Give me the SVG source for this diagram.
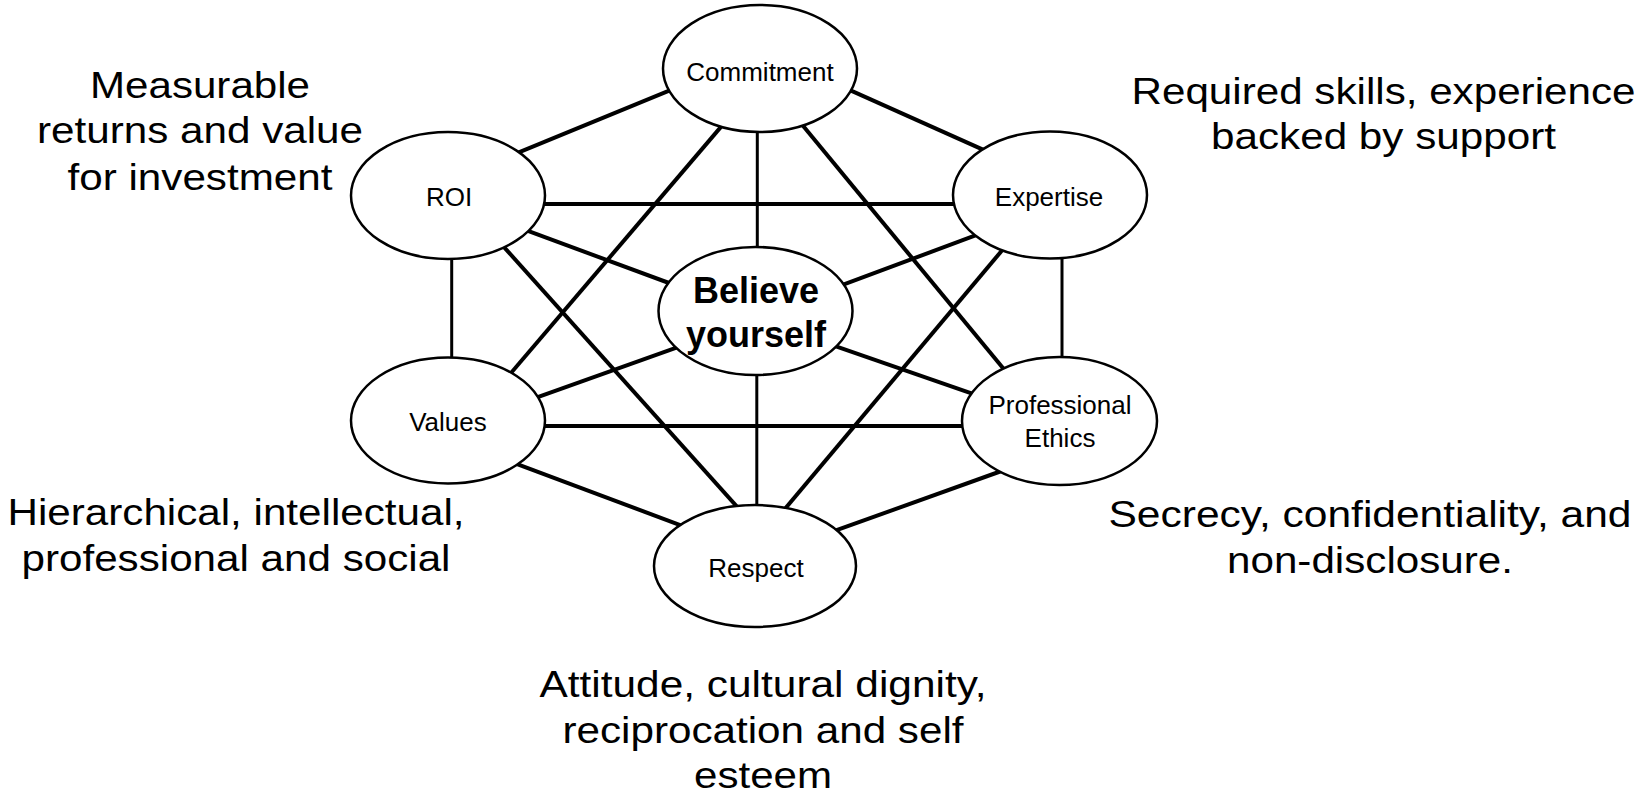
<svg xmlns="http://www.w3.org/2000/svg" width="1638" height="799" viewBox="0 0 1638 799">
<style>
.bg{fill:#ffffff}
.edge{stroke:#000;stroke-width:4;fill:none}
.vedge{stroke:#000;stroke-width:3;fill:none}
.node{fill:#ffffff;stroke:#000;stroke-width:2.5}
.nl{font-family:"Liberation Sans",Arial,sans-serif;font-size:26px;fill:#000;text-anchor:middle}
.center{font-family:"Liberation Sans",Arial,sans-serif;font-size:36px;font-weight:bold;fill:#000;text-anchor:middle}
.note{font-family:"Liberation Sans",Arial,sans-serif;font-size:37px;fill:#000;text-anchor:middle}
</style>
<rect class="bg" x="0" y="0" width="1638" height="799"/>
<g id="connectors">
<line class="edge" x1="513.3" y1="154.7" x2="674.1" y2="88.7"/>
<line class="edge" x1="846" y1="88.4" x2="991.3" y2="153.3"/>
<line class="edge" x1="540" y1="204" x2="958" y2="204"/>
<line class="edge" x1="723.5" y1="123.9" x2="506.9" y2="377.8"/>
<line class="vedge" x1="757.3" y1="125" x2="757.3" y2="252"/>
<line class="edge" x1="799.9" y1="122.1" x2="1008.3" y2="374.5"/>
<line class="edge" x1="522.5" y1="228.9" x2="675.8" y2="285.5"/>
<line class="edge" x1="839.2" y1="286.1" x2="989.5" y2="230.2"/>
<line class="vedge" x1="451.7" y1="254" x2="451.7" y2="363"/>
<line class="vedge" x1="1062" y1="253" x2="1062" y2="362"/>
<line class="edge" x1="499.7" y1="242.3" x2="742.4" y2="512.7"/>
<line class="edge" x1="1008.9" y1="242.2" x2="780.3" y2="514.4"/>
<line class="edge" x1="531.4" y1="399.4" x2="682.1" y2="345.6"/>
<line class="edge" x1="829.5" y1="344.1" x2="978.7" y2="395.9"/>
<line class="edge" x1="541" y1="426" x2="967" y2="426"/>
<line class="vedge" x1="756.8" y1="370" x2="756.8" y2="510"/>
<line class="edge" x1="511.8" y1="462.2" x2="687.5" y2="527.8"/>
<line class="edge" x1="1007.1" y1="469" x2="829.6" y2="532.7"/>
</g>
<g id="node-commitment">
<ellipse class="node" cx="760" cy="68.5" rx="97" ry="63.5"/>
<text class="nl" x="760" y="81">Commitment</text>
</g>
<g id="node-roi">
<ellipse class="node" cx="448" cy="195.5" rx="97" ry="63.5"/>
<text class="nl" x="449" y="206">ROI</text>
</g>
<g id="node-expertise">
<ellipse class="node" cx="1050" cy="195" rx="97" ry="63.5"/>
<text class="nl" x="1049" y="206">Expertise</text>
</g>
<g id="node-believe">
<ellipse class="node" cx="755.5" cy="311" rx="97" ry="64"/>
<text class="center" x="756" y="303">Believe</text>
<text class="center" x="756" y="347">yourself</text>
</g>
<g id="node-values">
<ellipse class="node" cx="448" cy="420.5" rx="97" ry="63"/>
<text class="nl" x="448" y="431">Values</text>
</g>
<g id="node-ethics">
<ellipse class="node" cx="1059.5" cy="421" rx="97.5" ry="64"/>
<text class="nl" x="1060" y="414">Professional</text>
<text class="nl" x="1060" y="447">Ethics</text>
</g>
<g id="node-respect">
<ellipse class="node" cx="755" cy="566" rx="101" ry="61"/>
<text class="nl" x="756" y="577">Respect</text>
</g>
<g id="label-roi">
<text class="note" x="200" y="98" textLength="220" lengthAdjust="spacingAndGlyphs">Measurable</text>
<text class="note" x="200" y="143" textLength="326" lengthAdjust="spacingAndGlyphs">returns and value</text>
<text class="note" x="200" y="190" textLength="265" lengthAdjust="spacingAndGlyphs">for investment</text>
</g>
<g id="label-expertise">
<text class="note" x="1383.5" y="103.5" textLength="504" lengthAdjust="spacingAndGlyphs">Required skills, experience</text>
<text class="note" x="1383.5" y="148.5" textLength="345" lengthAdjust="spacingAndGlyphs">backed by support</text>
</g>
<g id="label-values">
<text class="note" x="236" y="525" textLength="457" lengthAdjust="spacingAndGlyphs">Hierarchical, intellectual,</text>
<text class="note" x="236" y="571" textLength="429" lengthAdjust="spacingAndGlyphs">professional and social</text>
</g>
<g id="label-ethics">
<text class="note" x="1370" y="527" textLength="523" lengthAdjust="spacingAndGlyphs">Secrecy, confidentiality, and</text>
<text class="note" x="1370" y="573" textLength="286" lengthAdjust="spacingAndGlyphs">non-disclosure.</text>
</g>
<g id="label-respect">
<text class="note" x="763" y="697" textLength="447" lengthAdjust="spacingAndGlyphs">Attitude, cultural dignity,</text>
<text class="note" x="763" y="743" textLength="401" lengthAdjust="spacingAndGlyphs">reciprocation and self</text>
<text class="note" x="763" y="788" textLength="138" lengthAdjust="spacingAndGlyphs">esteem</text>
</g>
</svg>
